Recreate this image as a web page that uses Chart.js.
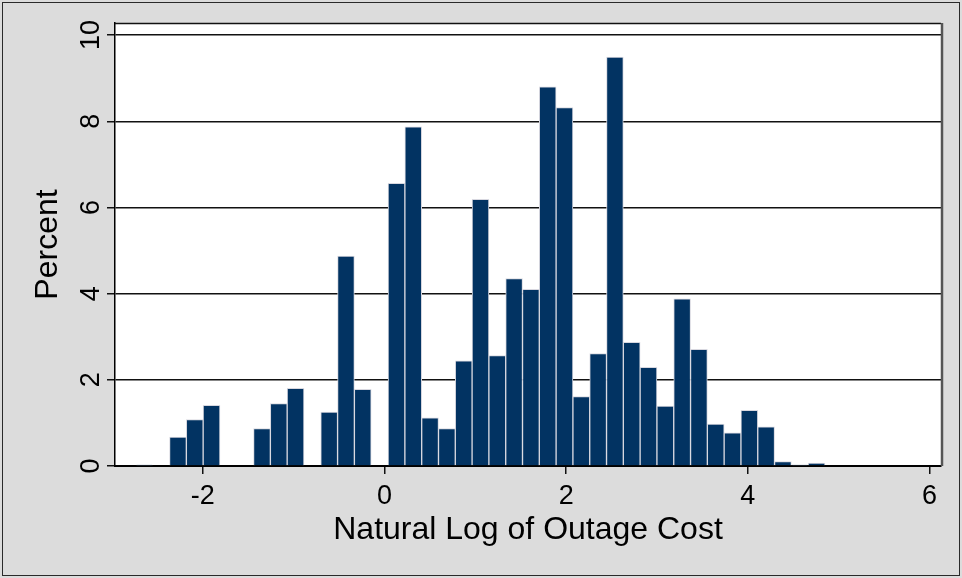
<!DOCTYPE html>
<html>
<head>
<meta charset="utf-8">
<title>Natural Log of Outage Cost</title>
<script src="https://cdn.jsdelivr.net/npm/chart.js@4/dist/chart.umd.min.js"></script>
<style>
  html, body { margin: 0; padding: 0; background: #dcdcdc; }
  #wrap { width: 962px; height: 578px; }
</style>
</head>
<body>
<div id="wrap"><canvas id="hist" width="962" height="578"></canvas></div>
<script>
// bin centres (natural log of outage cost), width about 0.185
const binCenters = [
  -2.644, -2.459, -2.274, -2.089, -1.904, -1.719, -1.534, -1.349, -1.164, -0.979,
  -0.794, -0.609, -0.424, -0.239, -0.054, 0.132, 0.317, 0.502, 0.687, 0.872,
  1.057, 1.242, 1.427, 1.612, 1.797, 1.982, 2.167, 2.352, 2.537, 2.722,
  2.907, 3.092, 3.277, 3.462, 3.647, 3.832, 4.017, 4.202, 4.387, 4.572, 4.757
];
// percent of observations in each bin
const percentValues = [
  0.02, 0, 0.67, 1.08, 1.41, 0, 0, 0.87, 1.45, 1.80,
  0, 1.25, 4.87, 1.78, 0, 6.56, 7.87, 1.12, 0.87, 2.44,
  6.19, 2.56, 4.35, 4.10, 8.80, 8.32, 1.61, 2.61, 9.49, 2.87,
  2.29, 1.39, 3.88, 2.71, 0.97, 0.77, 1.29, 0.91, 0.10, 0.02, 0.07
];
const xTickValues = [-2, 0, 2, 4, 6];
const yTickValues = [0, 2, 4, 6, 8, 10];
const xTitle = 'Natural Log of Outage Cost';
const yTitle = 'Percent';

const FONT = '"Liberation Sans", Arial, sans-serif';

// background, plot frame, rotated y labels and axis titles
const stataLook = {
  id: 'stataLook',
  beforeDraw(chart) {
    const { ctx, chartArea: a } = chart;
    ctx.save();
    ctx.fillStyle = '#dcdcdc';
    ctx.fillRect(0, 0, chart.width, chart.height);
    ctx.fillStyle = '#ffffff';
    ctx.fillRect(a.left, a.top, a.right - a.left, a.bottom - a.top);
    ctx.strokeStyle = '#2a2a2a';
    ctx.lineWidth = 1;
    ctx.strokeRect(2.5, 2.5, chart.width - 5, chart.height - 5);
    ctx.restore();
  },
  afterDraw(chart) {
    const { ctx, chartArea: a } = chart;
    const yScale = chart.scales.y;
    ctx.save();
    // top and right edge of the plot region
    ctx.strokeStyle = '#111';
    ctx.lineWidth = 1.5;
    ctx.beginPath();
    ctx.moveTo(a.left, a.top + 0.5);
    ctx.lineTo(a.right, a.top + 0.5);
    ctx.stroke();
    ctx.strokeStyle = '#555';
    ctx.lineWidth = 2.5;
    ctx.beginPath();
    ctx.moveTo(a.right + 1, a.top);
    ctx.lineTo(a.right + 1, a.bottom);
    ctx.stroke();

    ctx.fillStyle = '#000';
    ctx.textAlign = 'center';
    ctx.textBaseline = 'middle';
    // y tick labels, turned like Stata does
    ctx.font = '27px ' + FONT;
    yTickValues.forEach(v => {
      ctx.save();
      ctx.translate(92, yScale.getPixelForValue(v));
      ctx.rotate(-Math.PI / 2);
      ctx.fillText(String(v), 0, 0);
      ctx.restore();
    });
    // axis titles
    ctx.font = '32px ' + FONT;
    ctx.save();
    ctx.translate(48, (a.top + a.bottom) / 2);
    ctx.rotate(-Math.PI / 2);
    ctx.fillText(yTitle, 0, 0);
    ctx.restore();
    ctx.fillText(xTitle, (a.left + a.right) / 2, 530);
    ctx.restore();
  }
};

new Chart(document.getElementById('hist'), {
  type: 'bar',
  data: {
    datasets: [{
      data: binCenters.map((x, i) => ({ x, y: percentValues[i] })),
      backgroundColor: '#023362',
      borderColor: '#d8d8e0',
      borderWidth: 1,
      barPercentage: 1,
      categoryPercentage: 1
    }]
  },
  options: {
    responsive: false,
    animation: false,
    devicePixelRatio: 1,
    layout: { padding: { top: 23, right: 21, left: 0, bottom: 0 } },
    plugins: { legend: { display: false }, tooltip: { enabled: false } },
    scales: {
      x: {
        type: 'linear',
        min: -2.967,
        max: 6.127,
        offset: false,
        afterFit: s => { s.height = 112; },
        afterBuildTicks: s => { s.ticks = xTickValues.map(value => ({ value })); },
        grid: { drawOnChartArea: false, drawTicks: true, tickLength: 8, color: '#111', lineWidth: 1.5, offset: false },
        border: { color: '#000', width: 2 },
        ticks: { color: '#000', font: { family: FONT, size: 27 }, padding: 6, maxRotation: 0 }
      },
      y: {
        min: 0,
        max: 10.28,
        afterFit: s => { s.width = 115; },
        afterBuildTicks: s => { s.ticks = yTickValues.map(value => ({ value })); },
        grid: { color: '#111', lineWidth: 1.5, drawTicks: true, tickLength: 8 },
        border: { color: '#000', width: 1.5 },
        ticks: { display: false }
      }
    }
  },
  plugins: [stataLook]
});
</script>
</body>
</html>
